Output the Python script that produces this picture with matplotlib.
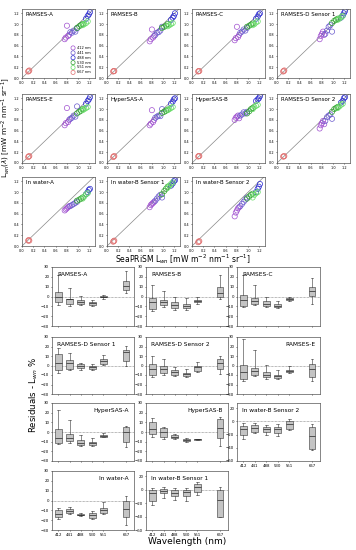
import matplotlib
matplotlib.use('Agg')
import matplotlib.pyplot as plt

W, H = 356, 550

# ---- scatter data (SeaPRiSM vs instrument Lwn) ----
bands = ['412 nm', '441 nm', '488 nm', '530 nm', '551 nm', '667 nm']
band_colors = ['#a050d0', '#6a5acd', '#2a2ad0', '#30a030', '#66dd66', '#e07070']

x412 = [0.76, 0.78, 0.80, 0.82, 0.84]
x441 = [0.86, 0.89, 0.92, 0.95, 0.98]
x488 = [1.14, 1.17, 1.19, 1.21]
x530 = [0.98, 1.02, 1.05, 1.08]
x551 = [1.08, 1.11, 1.14, 1.17]
x667 = [0.11, 0.12, 0.13]
sea_x = [x412, x441, x488, x530, x551, x667]

ramses_a = [[0.72, 0.75, 0.97, 0.78, 0.80], [0.85, 0.84, 0.88, 0.86, 0.92],
            [1.10, 1.15, 1.18, 1.22], [0.93, 0.96, 0.98, 1.00],
            [0.98, 1.00, 1.02, 1.05], [0.12, 0.13, 0.14]]
ramses_b = [[0.68, 0.72, 0.90, 0.75, 0.78], [0.80, 0.84, 0.85, 0.88, 0.95],
            [1.08, 1.12, 1.15, 1.20], [0.93, 0.95, 0.97, 1.00],
            [0.96, 0.98, 1.00, 1.02], [0.12, 0.13, 0.13]]
ramses_c = [[0.70, 0.74, 0.95, 0.76, 0.80], [0.84, 0.86, 0.90, 0.88, 0.93],
            [1.10, 1.14, 1.18, 1.20], [0.95, 0.97, 0.99, 1.01],
            [0.98, 1.00, 1.03, 1.05], [0.12, 0.13, 0.13]]
ramses_d1 = [[0.72, 0.78, 0.82, 0.86, 0.80], [0.82, 0.88, 0.95, 0.98, 0.86],
             [1.12, 1.16, 1.20, 1.24], [1.02, 1.06, 1.08, 1.10],
             [1.08, 1.10, 1.13, 1.15], [0.12, 0.13, 0.14]]
ramses_e = [[0.70, 0.74, 1.02, 0.76, 0.80], [0.82, 0.84, 0.88, 0.86, 1.05],
            [1.10, 1.15, 1.18, 1.22], [0.92, 0.95, 0.97, 1.00],
            [0.98, 1.00, 1.02, 1.04], [0.11, 0.12, 0.13]]
hypersas_a = [[0.70, 0.73, 0.98, 0.76, 0.80], [0.84, 0.86, 0.88, 0.87, 1.00],
              [1.10, 1.14, 1.18, 1.20], [0.93, 0.95, 0.97, 0.99],
              [0.98, 1.00, 1.02, 1.04], [0.11, 0.12, 0.13]]
hypersas_b = [[0.80, 0.84, 0.86, 0.88, 0.83], [0.88, 0.90, 0.94, 0.92, 0.95],
              [1.15, 1.18, 1.20, 1.24], [0.92, 0.96, 1.00, 1.02],
              [1.00, 1.04, 1.06, 1.08], [0.12, 0.13, 0.13]]
ramses_d2 = [[0.64, 0.70, 0.74, 0.78, 0.72], [0.78, 0.85, 0.88, 0.90, 0.82],
             [1.12, 1.15, 1.20, 1.22], [0.95, 1.00, 1.02, 1.04],
             [1.02, 1.05, 1.08, 1.10], [0.12, 0.12, 0.13]]
inwater_a = [[0.66, 0.68, 0.70, 0.72, 0.74], [0.74, 0.76, 0.78, 0.80, 0.82],
             [0.96, 1.00, 1.04, 1.06], [0.84, 0.86, 0.88, 0.90],
             [0.88, 0.92, 0.96, 0.98], [0.10, 0.11, 0.10]]
inwater_b1 = [[0.72, 0.76, 0.78, 0.80, 0.82], [0.84, 0.88, 0.92, 0.95, 0.90],
              [1.12, 1.16, 1.20, 1.22], [0.96, 1.02, 1.06, 1.10],
              [1.08, 1.12, 1.15, 1.18], [0.08, 0.09, 0.10]]
inwater_b2 = [[0.55, 0.62, 0.66, 0.70, 0.72], [0.74, 0.78, 0.82, 0.86, 0.90],
              [1.00, 1.06, 1.10, 1.15], [0.88, 0.92, 0.95, 0.97],
              [0.90, 0.95, 0.98, 1.00], [0.07, 0.08, 0.09]]

scatter_names = ['RAMSES-A', 'RAMSES-B', 'RAMSES-C', 'RAMSES-D Sensor 1',
                 'RAMSES-E', 'HyperSAS-A', 'HyperSAS-B', 'RAMSES-D Sensor 2',
                 'In water-A', 'In water-B Sensor 1', 'In water-B Sensor 2']
scatter_data = [ramses_a, ramses_b, ramses_c, ramses_d1, ramses_e, hypersas_a,
                hypersas_b, ramses_d2, inwater_a, inwater_b1, inwater_b2]

# ---- box plot data (residuals %) ----
wl_labels = ['412', '441', '488', '530', '551', '667']
wl_pos = [1, 2, 3, 4, 5, 7]

# each: median, q1, q3, whisker low, whisker high
bx_ramses_a = dict(med=[0, -3, -6, -7, 0, 11], q1=[-6, -8, -8, -9, -1, 7], q3=[5, -3, -4, -6, 1, 16],
                   lo=[-9, -10, -9, -10, -3, 4], hi=[22, 9, 1, -4, 2, 26])
bx_ramses_b = dict(med=[-6, -6, -9, -10, -5, 4], q1=[-13, -9, -12, -12, -6, 0], q3=[-2, -4, -6, -8, -4, 10],
                   lo=[-15, -11, -14, -14, -8, -3], hi=[12, 6, -1, -2, -1, 22])
bx_ramses_c = dict(med=[-4, -5, -8, -10, -3, 6], q1=[-10, -8, -10, -11, -4, 1], q3=[2, -2, -5, -8, -2, 10],
                   lo=[-11, -9, -11, -12, -5, -8], hi=[22, 12, 0, -5, -1, 19])
bx_ramses_d1 = dict(med=[3, 3, -1, -2, 5, 14], q1=[-5, -4, -3, -4, 2, 5], q3=[12, 6, 2, 0, 7, 16],
                    lo=[-8, -5, -5, -5, 1, 0], hi=[18, 13, 3, 2, 11, 21])
bx_ramses_d2 = dict(med=[-4, -4, -7, -9, -2, 3], q1=[-10, -8, -10, -11, -6, -4], q3=[2, 0, -5, -8, 0, 7],
                    lo=[-12, -10, -11, -12, -7, -9], hi=[10, 7, -2, -4, 4, 10])
bx_ramses_e = dict(med=[-7, -6, -10, -11, -6, -4], q1=[-14, -10, -12, -13, -7, -12], q3=[1, -3, -7, -10, -5, 2],
                   lo=[-16, -11, -14, -14, -8, -16], hi=[28, 16, 1, -5, 0, 7])
bx_hypersas_a = dict(med=[-6, -6, -11, -11, -4, 0], q1=[-11, -9, -13, -13, -5, -10], q3=[3, -2, -8, -10, -3.5, 5],
                     lo=[-12, -11, -14, -14, -5, -16], hi=[23, 12, -3, -6, -1, 6])
bx_hypersas_b = dict(med=[3, 0, -5, -8, -7.5, 4], q1=[-2, -5, -6, -9, -8, -6], q3=[10, 4, -3, -7, -7, 13],
                     lo=[-5, -7, -7, -10, -8.5, -14], hi=[14, 5, -2, -6, -7, 16])
bx_inwater_b2 = dict(med=[-12, -10, -12, -11, -4, -22], q1=[-20, -16, -16, -17, -11, -42], q3=[-7, -6, -8, -8, 1, -9],
                     lo=[-26, -18, -20, -22, -13, -44], hi=[-3, -3, -5, -4, 4, -4])
bx_inwater_a = dict(med=[-14, -11, -14.5, -15, -10, -9], q1=[-17, -13, -15, -18, -13, -17], q3=[-10, -9, -14, -13, -8, 0],
                    lo=[-19, -14, -16, -19, -14, -25], hi=[-8, -7, -13, -11, -2, 5])
bx_inwater_b1 = dict(med=[-5, -2.5, -5, -4, 4, -15], q1=[-16, -5, -10, -10, -3.5, -40], q3=[0, 1.5, 0, 0, 8.5, 0],
                     lo=[-22, -12, -15, -16, -8.5, -40], hi=[2.5, 3.5, 2.5, 2.5, 12, 3.5])

box_panels = [
    ('RAMSES-A', bx_ramses_a, 'left', (-30, 30)),
    ('RAMSES-B', bx_ramses_b, 'left', (-30, 30)),
    ('RAMSES-C', bx_ramses_c, 'left', (-30, 30)),
    ('RAMSES-D Sensor 1', bx_ramses_d1, 'left', (-30, 30)),
    ('RAMSES-D Sensor 2', bx_ramses_d2, 'left', (-30, 30)),
    ('RAMSES-E', bx_ramses_e, 'right', (-30, 30)),
    ('HyperSAS-A', bx_hypersas_a, 'right', (-30, 30)),
    ('HyperSAS-B', bx_hypersas_b, 'right', (-30, 30)),
    ('In water-B Sensor 2', bx_inwater_b2, 'left', (-60, 28)),
    ('In water-A', bx_inwater_a, 'right', (-30, 30)),
    ('In water-B Sensor 1', bx_inwater_b1, 'left', (-60, 28)),
]


def px_axes(fig, x0, y0, x1, y1):
    return fig.add_axes([x0 / W, 1 - y1 / H, (x1 - x0) / W, (y1 - y0) / H])


fig = plt.figure(figsize=(W / 100, H / 100), dpi=100)

# ---- scatter panels ----
sc_lefts = [22, 107, 192, 277]
sc_tops = [9, 94, 177]
for i, (name, data) in enumerate(zip(scatter_names, scatter_data)):
    r, c = divmod(i, 4)
    x0 = sc_lefts[c]
    y0 = sc_tops[r]
    ax = px_axes(fig, x0, y0, x0 + 73, y0 + 69)
    ax.plot([0, 1.3], [0, 1.3], color='#888888', lw=0.5, zorder=1)
    for xs, ys, col, lab in zip(sea_x, data, band_colors, bands):
        ax.scatter(xs, ys, s=14, facecolors='none', edgecolors=col, linewidths=0.5,
                   label=lab, zorder=2)
    ax.set_xlim(0, 1.3)
    ax.set_ylim(0, 1.28)
    ax.set_xticks([0, 0.2, 0.4, 0.6, 0.8, 1.0, 1.2])
    ax.set_yticks([0, 0.2, 0.4, 0.6, 0.8, 1.0, 1.2])
    ax.set_xticklabels(['0.0', '0.2', '0.4', '0.6', '0.8', '1.0', '1.2'])
    ax.set_yticklabels(['0.0', '0.2', '0.4', '0.6', '0.8', '1.0', '1.2'])
    ax.tick_params(labelsize=2.5, length=1, width=0.4, pad=1.2)
    for s in ax.spines.values():
        s.set_linewidth(0.5)
        s.set_color('#555555')
    ax.text(0.05, 0.95, name, transform=ax.transAxes, fontsize=4, va='top', ha='left')
    if i == 0:
        ax.legend(loc='lower right', fontsize=2.6, frameon=False, handletextpad=0.2,
                  labelspacing=0.25, borderaxespad=0.6, markerscale=0.8)

fig.text(6 / W, 1 - 128 / H, r'L$_{wn}$($\lambda$) [mW m$^{-2}$ nm$^{-1}$ sr$^{-1}$]',
         rotation=90, fontsize=5.2, ha='center', va='center')
fig.text(183 / W, 1 - 259 / H, r'SeaPRiSM L$_{wn}$ [mW m$^{-2}$ nm$^{-1}$ sr$^{-1}$]',
         fontsize=5.5, ha='center', va='center')

# ---- box plot panels ----
bx_cols = [(52, 134), (146, 228), (237, 320)]
bx_rows = [(267, 326), (337, 394), (403, 461), (471, 530)]
for i, (name, d, side, ylim) in enumerate(box_panels):
    r, c = divmod(i, 3)
    x0, x1 = bx_cols[c]
    y0, y1 = bx_rows[r]
    ax = px_axes(fig, x0, y0, x1, y1)
    stats = []
    for k in range(len(wl_pos)):
        stats.append(dict(med=d['med'][k], q1=d['q1'][k], q3=d['q3'][k],
                          whislo=d['lo'][k], whishi=d['hi'][k], fliers=[]))
    ax.axhline(0, color='#777777', lw=0.5, ls=(0, (1, 1)), zorder=0)
    ax.bxp(stats, positions=wl_pos, widths=0.6, patch_artist=True, showfliers=False,
           boxprops=dict(facecolor='#c4c4c4', edgecolor='#333333', linewidth=0.4),
           medianprops=dict(color='#222222', linewidth=0.5),
           whiskerprops=dict(color='#333333', linewidth=0.4),
           capprops=dict(color='#333333', linewidth=0.4), capwidths=0.25)
    ax.set_xlim(0.45, 7.7)
    ax.set_ylim(*ylim)
    if ylim[0] == -60:
        ax.set_yticks([-60, -40, -20, 0, 20])
    else:
        ax.set_yticks([-30, -20, -10, 0, 10, 20, 30])
    ax.set_xticks(wl_pos)
    if name in ('In water-A', 'In water-B Sensor 1', 'In water-B Sensor 2'):
        ax.set_xticklabels(wl_labels)
    else:
        ax.set_xticklabels([])
    ax.tick_params(labelsize=2.8, length=1, width=0.4, pad=1)
    for s in ax.spines.values():
        s.set_linewidth(0.5)
        s.set_color('#555555')
    if side == 'left':
        ax.text(0.06, 0.92, name, transform=ax.transAxes, fontsize=4.2, va='top', ha='left')
    else:
        ax.text(0.94, 0.92, name, transform=ax.transAxes, fontsize=4.2, va='top', ha='right')

fig.text(34 / W, 1 - 395 / H, r'Residuals - L$_{wn}$ %', rotation=90, fontsize=6.2,
         ha='center', va='center')
fig.text(187 / W, 1 - 542 / H, 'Wavelength (nm)', fontsize=6.5, ha='center', va='center')

fig.savefig('out.png', dpi=100)
